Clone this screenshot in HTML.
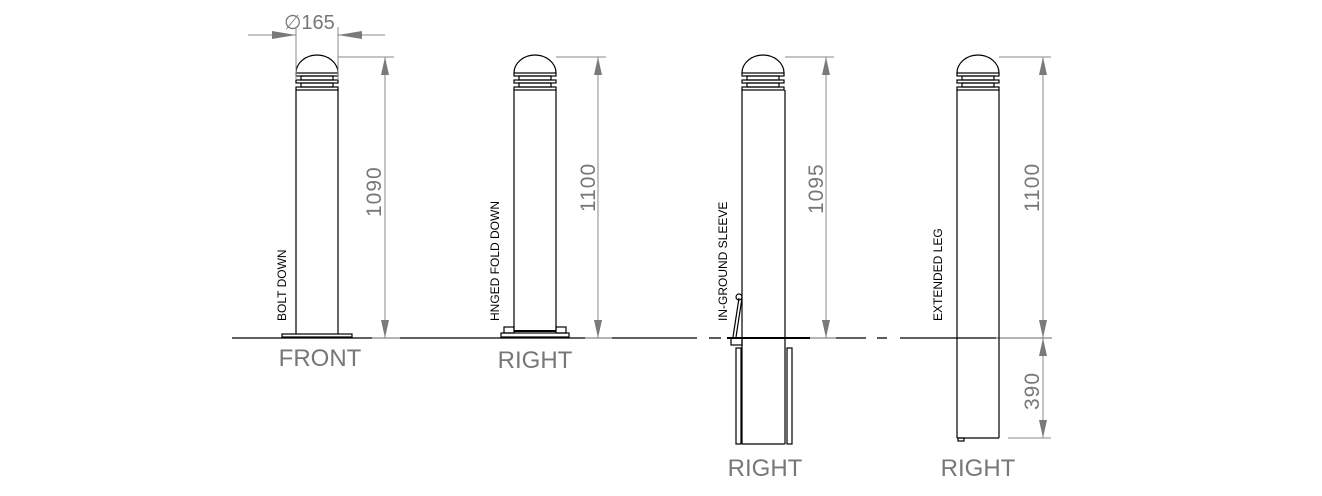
<!DOCTYPE html>
<html><head><style>
html,body{margin:0;padding:0;background:#fff;}
svg{display:block;}
text{font-family:"Liberation Sans",sans-serif;}
</style></head><body>
<svg width="1322" height="496" viewBox="0 0 1322 496" xmlns="http://www.w3.org/2000/svg">
<defs>
<g id="cap" fill="none" stroke="#000" stroke-width="1.2">
  <path d="M0 16 A21 18 0 0 1 42 16"/>
  <rect x="0" y="16" width="42" height="3"/>
  <rect x="5" y="19" width="32" height="4"/>
  <rect x="0" y="23" width="42" height="3"/>
  <rect x="5" y="26" width="32" height="4"/>
  <rect x="0" y="30" width="42" height="3"/>
</g>
<g id="arrUp" fill="#7a7a7a"><polygon points="0,0 -4,18 4,18"/></g>
<g id="arrDn" fill="#7a7a7a"><polygon points="0,0 -4,-18 4,-18"/></g>
</defs>

<g stroke="#000" stroke-width="1.3">
  <line x1="232" y1="338" x2="372" y2="338"/>
  <line x1="400" y1="338" x2="585" y2="338"/>
  <line x1="612" y1="338" x2="697" y2="338"/>
  <line x1="709" y1="338" x2="721" y2="338"/>
  <line x1="727" y1="338" x2="810" y2="338" stroke-width="2"/>
  <line x1="836" y1="338" x2="866" y2="338"/>
  <line x1="877" y1="338" x2="887" y2="338"/>
  <line x1="900" y1="338" x2="996" y2="338"/>
</g>
<g stroke="#888" stroke-width="1.2">
  <line x1="372" y1="338" x2="400" y2="338"/>
  <line x1="585" y1="338" x2="612" y2="338"/>
  <line x1="810" y1="338" x2="836" y2="338"/>
  <line x1="996" y1="338" x2="1052" y2="338"/>
</g>

<!-- Post 1 -->
<use href="#cap" x="296" y="57"/>
<g fill="none" stroke="#000" stroke-width="1.2">
  <line x1="296" y1="90" x2="296" y2="334"/>
  <line x1="338" y1="90" x2="338" y2="334"/>
  <rect x="282" y="334" width="70" height="3"/>
</g>
<g stroke="#888" stroke-width="1">
  <line x1="296" y1="27" x2="296" y2="80"/>
  <line x1="338" y1="27" x2="338" y2="80"/>
  <line x1="248" y1="35" x2="296" y2="35"/>
  <line x1="338" y1="35" x2="385" y2="35"/>
</g>
<polygon points="296,35 272,31 272,39" fill="#7a7a7a"/>
<polygon points="338,35 362,31 362,39" fill="#7a7a7a"/>
<text x="284" y="29" font-size="20" fill="#777">∅165</text>
<g stroke="#888" stroke-width="1">
  <line x1="338" y1="57" x2="394" y2="57"/>
  <line x1="385" y1="57" x2="385" y2="338"/>
</g>
<use href="#arrUp" x="385" y="57"/>
<use href="#arrDn" x="385" y="338"/>
<text transform="translate(381,217) rotate(-90)" font-size="21" fill="#777" letter-spacing="1">1090</text>
<text transform="translate(286,321) rotate(-90)" font-size="12" fill="#000">BOLT DOWN</text>
<text x="320" y="366" font-size="24" fill="#777" text-anchor="middle">FRONT</text>

<!-- Post 2 -->
<use href="#cap" x="514" y="57"/>
<g fill="none" stroke="#000" stroke-width="1.2">
  <line x1="514" y1="90" x2="514" y2="330"/>
  <line x1="556" y1="90" x2="556" y2="330"/>
  <rect x="501" y="333" width="68" height="4"/>
  <rect x="504" y="327" width="10" height="6"/>
  <rect x="556" y="327" width="10" height="6"/>
  <line x1="514" y1="331" x2="556" y2="331" stroke-width="2"/>
</g>
<g stroke="#888" stroke-width="1">
  <line x1="556" y1="57" x2="606" y2="57"/>
  <line x1="598" y1="57" x2="598" y2="338"/>
</g>
<use href="#arrUp" x="598" y="57"/>
<use href="#arrDn" x="598" y="338"/>
<text transform="translate(595,212) rotate(-90)" font-size="21" fill="#777" letter-spacing="1">1100</text>
<text transform="translate(499,321) rotate(-90)" font-size="12" fill="#000">HNGED FOLD DOWN</text>
<text x="535" y="368" font-size="24" fill="#777" text-anchor="middle">RIGHT</text>

<!-- Post 3 -->
<use href="#cap" x="742" y="57"/>
<g fill="none" stroke="#000" stroke-width="1.2">
  <line x1="742" y1="90" x2="742" y2="444"/>
  <line x1="785" y1="90" x2="785" y2="444"/>
  <line x1="742" y1="444" x2="785" y2="444"/>
  <rect x="736" y="348" width="5" height="96"/>
  <rect x="787" y="348" width="5" height="96"/>
  <rect x="731" y="338" width="11" height="7"/>
  <path d="M733 337 L739 298"/>
  <path d="M736 337 L742 298"/>
  <circle cx="739" cy="297" r="3"/>
</g>
<g stroke="#888" stroke-width="1">
  <line x1="785" y1="57" x2="834" y2="57"/>
  <line x1="826" y1="57" x2="826" y2="338"/>
</g>
<use href="#arrUp" x="826" y="57"/>
<use href="#arrDn" x="826" y="338"/>
<text transform="translate(823,214) rotate(-90)" font-size="21" fill="#777" letter-spacing="1">1095</text>
<text transform="translate(727,321) rotate(-90)" font-size="12" fill="#000">IN-GROUND SLEEVE</text>
<text x="765" y="476" font-size="24" fill="#777" text-anchor="middle">RIGHT</text>

<!-- Post 4 -->
<use href="#cap" x="957" y="57"/>
<g fill="none" stroke="#000" stroke-width="1.2">
  <line x1="957" y1="90" x2="957" y2="438"/>
  <line x1="999" y1="90" x2="999" y2="438"/>
  <line x1="957" y1="438" x2="999" y2="438"/>
  <rect x="958" y="438" width="6" height="3"/>
</g>
<g stroke="#888" stroke-width="1">
  <line x1="999" y1="57" x2="1051" y2="57"/>
  <line x1="1043" y1="57" x2="1043" y2="438"/>
  <line x1="1008" y1="438" x2="1051" y2="438"/>
</g>
<use href="#arrUp" x="1043" y="57"/>
<use href="#arrDn" x="1043" y="338"/>
<use href="#arrUp" x="1043" y="338"/>
<use href="#arrDn" x="1043" y="438"/>
<text transform="translate(1039,212) rotate(-90)" font-size="21" fill="#777" letter-spacing="1">1100</text>
<text transform="translate(1039,410) rotate(-90)" font-size="21" fill="#777" letter-spacing="1">390</text>
<text transform="translate(942,321) rotate(-90)" font-size="12" fill="#000">EXTENDED LEG</text>
<text x="978" y="476" font-size="24" fill="#777" text-anchor="middle">RIGHT</text>
</svg>
</body></html>
